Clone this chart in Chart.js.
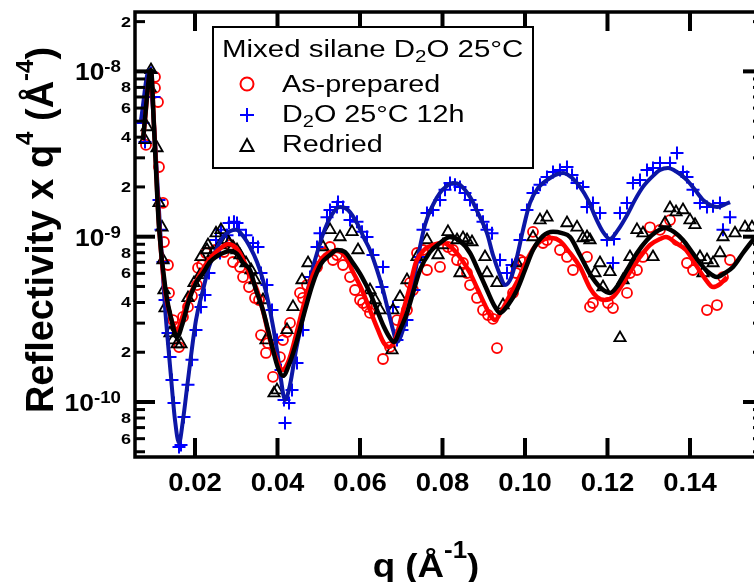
<!DOCTYPE html>
<html>
<head>
<meta charset="utf-8">
<script src="https://cdn.jsdelivr.net/npm/chart.js@4.4.1/dist/chart.umd.min.js"></script>
<style>
  html, body { margin: 0; padding: 0; background: #fff; overflow: hidden; }
  #wrap { width: 790px; height: 582px; }
</style>
</head>
<body>
<div id="wrap"><canvas id="reflChart" width="790" height="582"></canvas></div>
<script>
// q in 1/A, reflectivity * q^4 in A^-4

// As-prepared (red circles)
const asPrepQ = [0.00812,0.0103,0.0103,0.01103,0.01127,0.01224,0.01248,0.01345,0.0137,0.01467,
    0.01539,0.01612,0.01709,0.0183,0.01927,0.02048,0.02073,0.0217,0.02267,0.02485,
    0.02703,0.02848,0.02921,0.03091,0.03164,0.03309,0.03455,0.03552,0.036,0.03721,
    0.0377,0.03891,0.0406,0.04133,0.0423,0.04303,0.04545,0.04618,0.04715,0.04958,
    0.05103,0.05273,0.05345,0.05442,0.05588,0.05758,0.05879,0.06,0.06073,0.0617,
    0.06242,0.06558,0.06727,0.06897,0.07139,0.07212,0.07285,0.07382,0.07527,0.07624,
    0.0794,0.08133,0.08255,0.08352,0.08497,0.08594,0.08667,0.08836,0.08982,0.09103,
    0.09224,0.09321,0.09709,0.09782,0.09879,0.09952,0.10194,0.10436,0.10533,0.10848,
    0.11018,0.11164,0.11503,0.11576,0.11648,0.12012,0.12133,0.12473,0.12545,0.12715,
    0.1286,0.1303,0.13273,0.13515,0.13685,0.13927,0.14073,0.14412,0.14655,0.148,0.1497];
const asPrepR = [3.59e-9,9.25e-9,7.94e-9,6.53e-9,2.64e-9,1.60e-9,9.29e-10,6.74e-10,4.57e-10,3.13e-10,
    2.84e-10,2.15e-10,3.27e-10,3.76e-10,4.38e-10,5.10e-10,6.47e-10,6.74e-10,7.97e-10,8.31e-10,
    8.08e-10,8.91e-10,7.03e-10,6.56e-10,5.70e-10,4.96e-10,4.26e-10,4.14e-10,2.54e-10,1.98e-10,
    2.27e-10,1.42e-10,1.87e-10,2.37e-10,2.65e-10,3.01e-10,4.57e-10,4.26e-10,5.10e-10,6.56e-10,
    7.97e-10,8.66e-10,7.23e-10,7.75e-10,6.74e-10,5.70e-10,4.76e-10,4.14e-10,3.97e-10,3.76e-10,
    3.46e-10,1.82e-10,2.15e-10,3.13e-10,3.60e-10,5.25e-10,4.76e-10,7.97e-10,8.31e-10,6.29e-10,
    6.56e-10,8.66e-10,8.31e-10,7.23e-10,6.93e-10,6.03e-10,5.10e-10,4.26e-10,3.60e-10,3.36e-10,
    3.18e-10,2.12e-10,4.57e-10,6.03e-10,7.23e-10,7.03e-10,1.07e-9,9.16e-10,9.55e-10,8.31e-10,
    7.54e-10,6.29e-10,7.54e-10,3.76e-10,3.97e-10,3.97e-10,3.70e-10,4.57e-10,6.03e-10,6.29e-10,
    7.54e-10,1.14e-9,1.10e-9,1.26e-9,9.55e-10,6.93e-10,6.29e-10,3.60e-10,3.86e-10,5.70e-10,7.23e-10];

// D2O 25C 12h (blue crosses)
const d2oQ = [0.00739,0.00788,0.00933,0.01006,0.01127,0.01176,0.01224,0.01273,0.01345,0.01394,
    0.01442,0.01491,0.01612,0.01661,0.01733,0.0183,0.01927,0.02024,0.02145,0.02242,
    0.02339,0.02509,0.02606,0.0263,0.02776,0.02824,0.02945,0.03018,0.03067,0.03236,
    0.03406,0.03527,0.036,0.03745,0.03867,0.03988,0.04085,0.04158,0.04182,0.04279,
    0.04352,0.04473,0.04618,0.04788,0.04958,0.0503,0.052,0.05273,0.05442,0.05467,
    0.05588,0.05758,0.05927,0.06048,0.0617,0.06315,0.06533,0.06558,0.068,0.06897,
    0.07018,0.07139,0.07309,0.07455,0.07527,0.07624,0.0777,0.0794,0.08061,0.08182,
    0.08303,0.08424,0.08545,0.08667,0.08836,0.08982,0.09079,0.092,0.09394,0.09564,
    0.09685,0.09879,0.10048,0.10194,0.10364,0.10533,0.10679,0.10848,0.11018,0.1114,
    0.11261,0.11406,0.11503,0.11648,0.11818,0.11988,0.12158,0.12133,0.12303,0.12473,
    0.12618,0.12788,0.12958,0.13103,0.13273,0.13515,0.13685,0.1383,0.13927,0.14073,
    0.14242,0.14412,0.14558,0.14727,0.148,0.1497];
const d2oR = [4.87e-9,3.74e-9,9.78e-9,7.00e-9,1.67e-9,1.10e-9,7.03e-10,4.14e-10,2.61e-10,1.87e-10,
    1.36e-10,9.86e-11,5.34e-11,5.49e-11,8.11e-11,1.27e-10,1.80e-10,2.73e-10,3.76e-10,4.44e-10,
    6.03e-10,9.55e-10,7.97e-10,1.10e-9,1.02e-9,1.21e-9,1.23e-9,1.21e-9,1.10e-9,1.02e-9,
    9.16e-10,8.66e-10,6.03e-10,5.10e-10,3.60e-10,2.37e-10,1.56e-10,1.03e-10,7.46e-11,9.86e-11,
    1.18e-10,1.72e-10,2.73e-10,5.70e-10,8.66e-10,1.05e-9,1.31e-9,1.45e-9,1.51e-9,1.62e-9,
    1.51e-9,1.26e-9,1.23e-9,1.07e-9,9.96e-10,7.75e-10,4.96e-10,6.56e-10,3.76e-10,2.37e-10,
    2.73e-10,3.13e-10,4.76e-10,7.54e-10,1.10e-9,1.39e-9,1.45e-9,1.67e-9,1.92e-9,2.11e-9,
    2.06e-9,2.00e-9,1.84e-9,1.67e-9,1.45e-9,1.23e-9,1.10e-9,1.05e-9,7.23e-10,6.03e-10,
    6.74e-10,9.55e-10,1.45e-9,1.84e-9,2.06e-9,2.30e-9,2.46e-9,2.53e-9,2.64e-9,2.36e-9,
    2.11e-9,2.00e-9,1.51e-9,1.60e-9,1.39e-9,9.55e-10,9.69e-10,6.93e-10,1.39e-9,1.60e-9,
    2.11e-9,2.20e-9,2.53e-9,2.60e-9,2.79e-9,2.79e-9,3.21e-9,2.46e-9,2.30e-9,1.92e-9,
    1.60e-9,1.51e-9,1.53e-9,1.60e-9,1.10e-9,1.31e-9];

// Redried (black triangles)
const redriedQ = [0.00788,0.00836,0.00909,0.00933,0.01079,0.01127,0.012,0.01224,0.01248,0.01273,
    0.01394,0.01467,0.01564,0.01661,0.0183,0.01976,0.02121,0.02145,0.02291,0.02315,
    0.02436,0.02509,0.02606,0.0263,0.02776,0.02824,0.02921,0.03018,0.03091,0.03236,
    0.03358,0.03455,0.03648,0.03721,0.03915,0.03988,0.0423,0.04376,0.04594,0.0474,
    0.05103,0.05273,0.05515,0.05806,0.05952,0.06242,0.06364,0.06485,0.06776,0.068,
    0.0697,0.07139,0.07382,0.07624,0.07891,0.08012,0.08133,0.08352,0.08424,0.08497,
    0.08594,0.08715,0.0903,0.09079,0.09321,0.09467,0.09806,0.10194,0.10364,0.10533,
    0.11018,0.11261,0.11406,0.11503,0.11576,0.11697,0.11818,0.11891,0.12061,0.12303,
    0.12376,0.12545,0.12715,0.1286,0.13103,0.13394,0.13515,0.13661,0.1383,0.14,
    0.14121,0.14242,0.14315,0.14412,0.14558,0.14727,0.148,0.15091,0.15333,0.15503];
const redriedR = [3.85e-9,4.61e-9,7.94e-9,1.02e-8,3.44e-9,1.60e-9,1.14e-9,7.23e-10,4.76e-10,3.70e-10,
    2.61e-10,2.37e-10,2.24e-10,2.24e-10,4.26e-10,5.25e-10,5.87e-10,7.54e-10,8.31e-10,8.91e-10,
    7.97e-10,1.05e-9,8.91e-10,1.10e-9,9.55e-10,9.16e-10,8.66e-10,8.31e-10,7.75e-10,6.93e-10,
    6.29e-10,5.47e-10,4.14e-10,2.37e-10,1.13e-10,1.18e-10,2.73e-10,3.76e-10,5.47e-10,6.93e-10,
    8.66e-10,1.10e-9,9.96e-10,1.07e-9,8.31e-10,4.76e-10,4.14e-10,3.60e-10,2.06e-10,3.60e-10,
    4.32e-10,5.47e-10,7.54e-10,9.55e-10,7.75e-10,8.91e-10,1.07e-9,9.55e-10,6.03e-10,9.82e-10,
    9.55e-10,9.29e-10,7.54e-10,6.03e-10,5.25e-10,3.86e-10,6.93e-10,9.96e-10,1.26e-9,1.31e-9,
    1.21e-9,1.14e-9,9.82e-10,9.96e-10,9.55e-10,6.03e-10,6.93e-10,4.96e-10,6.12e-10,2.44e-10,
    5.47e-10,7.54e-10,1.10e-9,1.05e-9,7.54e-10,1.21e-9,1.49e-9,1.41e-9,1.45e-9,1.26e-9,
    1.18e-9,7.54e-10,6.03e-10,7.23e-10,6.93e-10,7.97e-10,9.96e-10,1.05e-9,1.14e-9,1.14e-9];

// model fits
const asPrepFitQ = [0.00739,0.00933,0.01006,0.01127,0.01273,0.01418,0.01564,0.01709,0.01879,0.02073,
    0.02267,0.02461,0.02655,0.028,0.0297,0.03139,0.03333,0.03503,0.03673,0.03818,
    0.03964,0.04109,0.04279,0.04448,0.04667,0.0486,0.05079,0.05273,0.05442,0.05636,
    0.0583,0.06048,0.06242,0.06436,0.06582,0.06703,0.06848,0.07018,0.07188,0.07358,
    0.07552,0.0777,0.08012,0.0823,0.08473,0.08667,0.08861,0.0903,0.09152,0.09273,
    0.09442,0.09636,0.0983,0.10048,0.10267,0.10485,0.10655,0.10848,0.11091,0.11333,
    0.11576,0.11745,0.11939,0.12133,0.12352,0.12545,0.12788,0.1303,0.13273,0.13418,
    0.13661,0.13903,0.14145,0.14388,0.14558,0.14727,0.14897];
const asPrepFitR = [3.85e-9,9.92e-9,4.74e-9,1.18e-9,4.76e-10,3.22e-10,2.73e-10,3.36e-10,4.44e-10,5.63e-10,
    6.84e-10,7.86e-10,8.66e-10,9.03e-10,8.66e-10,7.54e-10,5.87e-10,4.76e-10,3.36e-10,2.37e-10,
    1.85e-10,1.56e-10,1.80e-10,2.54e-10,4.14e-10,5.87e-10,7.43e-10,8.08e-10,8.19e-10,7.64e-10,
    6.12e-10,4.76e-10,3.60e-10,2.73e-10,2.27e-10,2.15e-10,2.37e-10,3.36e-10,4.76e-10,7.03e-10,
    8.31e-10,8.91e-10,9.16e-10,8.54e-10,7.23e-10,6.03e-10,4.76e-10,3.86e-10,3.36e-10,3.13e-10,
    3.60e-10,4.44e-10,5.47e-10,7.23e-10,8.91e-10,9.68e-10,9.82e-10,9.42e-10,7.97e-10,6.56e-10,
    4.89e-10,4.32e-10,4.14e-10,4.32e-10,5.10e-10,6.12e-10,7.54e-10,8.91e-10,9.69e-10,9.96e-10,
    9.16e-10,8.31e-10,6.74e-10,5.47e-10,4.96e-10,5.17e-10,5.70e-10];

const d2oFitQ = [0.00691,0.00885,0.00982,0.01103,0.01248,0.01418,0.01515,0.01612,0.01709,0.0183,
    0.02024,0.02194,0.02339,0.02509,0.02679,0.02848,0.02994,0.03164,0.03333,0.03503,
    0.03648,0.03818,0.03988,0.04085,0.04182,0.04303,0.04448,0.04618,0.04788,0.0503,
    0.05273,0.05515,0.05709,0.05927,0.06097,0.06242,0.06412,0.06558,0.06679,0.068,
    0.06897,0.07042,0.07212,0.07382,0.07576,0.0777,0.07939,0.08109,0.08255,0.08424,
    0.08667,0.08861,0.09079,0.09224,0.09394,0.09515,0.09661,0.09806,0.09952,0.10121,
    0.10315,0.10533,0.10727,0.10921,0.1114,0.11333,0.11527,0.11697,0.11891,0.12061,
    0.12255,0.12473,0.12667,0.1286,0.13079,0.13273,0.13467,0.13685,0.13927,0.14121,
    0.14315,0.14485,0.14655,0.14824,0.1497];
const d2oFitR = [5.08e-9,1.02e-8,5.84e-9,1.84e-9,4.57e-10,1.42e-10,7.78e-11,5.65e-11,7.78e-11,1.36e-10,
    3.13e-10,4.76e-10,6.56e-10,8.31e-10,9.96e-10,1.08e-9,1.10e-9,1.01e-9,8.66e-10,7.03e-10,
    5.47e-10,3.60e-10,2.06e-10,1.36e-10,1.03e-10,1.27e-10,2.06e-10,3.27e-10,5.47e-10,9.16e-10,
    1.30e-9,1.51e-9,1.45e-9,1.21e-9,9.82e-10,8.31e-10,6.29e-10,4.76e-10,3.60e-10,2.73e-10,
    2.31e-10,2.73e-10,4.14e-10,7.03e-10,1.18e-9,1.56e-9,1.84e-9,2.03e-9,2.11e-9,2.06e-9,
    1.74e-9,1.39e-9,1.05e-9,7.75e-10,5.87e-10,5.10e-10,5.63e-10,7.54e-10,1.10e-9,1.60e-9,
    1.97e-9,2.20e-9,2.36e-9,2.43e-9,2.27e-9,2.00e-9,1.67e-9,1.33e-9,1.07e-9,9.69e-10,
    1.10e-9,1.35e-9,1.67e-9,2.00e-9,2.30e-9,2.53e-9,2.60e-9,2.46e-9,2.20e-9,1.92e-9,
    1.67e-9,1.56e-9,1.51e-9,1.56e-9,1.62e-9];

const redriedFitQ = [0.00739,0.00933,0.01006,0.01127,0.01297,0.01442,0.01564,0.01709,0.01855,0.02024,
    0.02194,0.02364,0.02509,0.02679,0.02848,0.03018,0.03164,0.03333,0.03479,0.03648,
    0.0377,0.03891,0.04012,0.04133,0.04303,0.04473,0.04667,0.0486,0.05055,0.05273,
    0.05442,0.05636,0.0583,0.06048,0.06242,0.06412,0.06582,0.06727,0.06824,0.0697,
    0.07139,0.07285,0.07455,0.07697,0.07939,0.08182,0.08424,0.08667,0.08861,0.09079,
    0.09248,0.09394,0.09588,0.09806,0.1,0.10194,0.10436,0.10679,0.10897,0.11091,
    0.11333,0.11576,0.11818,0.12061,0.12255,0.12473,0.12715,0.12958,0.13176,0.13394,
    0.13612,0.1383,0.14048,0.14242,0.14436,0.14655,0.14848,0.15042,0.15285,0.15527,0.15697];
const redriedFitR = [3.85e-9,1.02e-8,4.61e-9,1.145e-9,4.57e-10,3.05e-10,2.47e-10,3.05e-10,4.14e-10,5.25e-10,
    6.03e-10,7.03e-10,7.54e-10,7.97e-10,8.19e-10,7.86e-10,6.93e-10,6.29e-10,4.76e-10,3.60e-10,
    2.73e-10,2.06e-10,1.61e-10,1.44e-10,1.75e-10,2.37e-10,3.60e-10,5.25e-10,6.84e-10,7.75e-10,
    8.31e-10,8.08e-10,6.93e-10,5.70e-10,4.57e-10,3.60e-10,2.84e-10,2.44e-10,2.31e-10,2.73e-10,
    3.46e-10,4.57e-10,6.29e-10,8.08e-10,9.16e-10,9.96e-10,9.42e-10,7.97e-10,6.29e-10,4.76e-10,
    3.86e-10,3.46e-10,3.86e-10,4.76e-10,6.29e-10,8.31e-10,1.01e-9,1.07e-9,1.05e-9,9.96e-10,
    7.75e-10,5.95e-10,4.96e-10,4.57e-10,5.10e-10,6.29e-10,7.97e-10,9.55e-10,1.07e-9,1.13e-9,
    1.07e-9,9.55e-10,8.08e-10,6.93e-10,6.12e-10,5.70e-10,6.03e-10,6.56e-10,7.97e-10,9.55e-10,1.07e-9];

// axes
const qMin = 0.005455, qMax = 0.1577;
const rMin = 4.648e-11, rMax = 2.287e-8;
const xTickValues = [0.02, 0.04, 0.06, 0.08, 0.10, 0.12, 0.14];
const xTickLabels = ['0.02', '0.04', '0.06', '0.08', '0.10', '0.12', '0.14'];
const yDecades = [1e-8, 1e-9, 1e-10];
const yDecadeExp = ['-8', '-9', '-10'];
const yMinorLabelValues = [2e-8, 8e-9, 6e-9, 4e-9, 2e-9, 8e-10, 6e-10, 4e-10, 2e-10, 8e-11, 6e-11];
const yMinorLabels = ['2', '8', '6', '4', '2', '8', '6', '4', '2', '8', '6'];

const FONT = '"Liberation Sans", Arial, Helvetica, sans-serif';
const RED = '#ff0000', BLUE = '#0000ff', NAVY = '#0c16a6', BLACK = '#000000';

function pts(qs, rs) {
    const n = Math.min(qs.length, rs.length);
    const out = [];
    for (let i = 0; i < n; i++) out.push({ x: qs[i], y: rs[i] });
    return out;
}

// draws a row of text runs (for super/subscripts), optionally stretched in x
function drawRuns(ctx, runs, x, y, opts) {
    const sx = opts.sx || 1;
    const weight = opts.bold ? 'bold ' : '';
    let total = 0;
    runs.forEach(r => {
        ctx.font = weight + r.size + 'px ' + FONT;
        r.w = ctx.measureText(r.t).width * sx;
        total += r.w;
    });
    let cx = x;
    if (opts.align === 'center') cx -= total / 2;
    else if (opts.align === 'right') cx -= total;
    runs.forEach(r => {
        ctx.save();
        ctx.font = weight + r.size + 'px ' + FONT;
        ctx.textAlign = 'left';
        ctx.textBaseline = 'alphabetic';
        ctx.translate(cx, y + (r.dy || 0));
        ctx.scale(sx, 1);
        ctx.fillText(r.t, 0, 0);
        ctx.restore();
        cx += r.w;
    });
    return total;
}

function seg(ctx, x1, y1, x2, y2) {
    ctx.beginPath();
    ctx.moveTo(x1, y1);
    ctx.lineTo(x2, y2);
    ctx.stroke();
}

const igorAxes = {
    id: 'igorAxes',
    afterDatasetsDraw(chart) {
        const { ctx, chartArea: a } = chart;
        const xs = chart.scales.x, ys = chart.scales.y;
        ctx.save();
        ctx.strokeStyle = '#000';
        ctx.fillStyle = '#000';
        ctx.lineCap = 'butt';

        // x ticks, bottom and mirrored on top
        ctx.lineWidth = 4;
        xTickValues.forEach(v => {
            const px = xs.getPixelForValue(v);
            seg(ctx, px, a.bottom, px, a.bottom - 19);
            seg(ctx, px, a.top, px, a.top + 19);
        });

        // log ticks on left and right
        for (let e = -11; e <= -8; e++) {
            for (let m = 1; m <= 9; m++) {
                const v = m * Math.pow(10, e);
                if (v < rMin || v > rMax) continue;
                const py = ys.getPixelForValue(v);
                const len = m === 1 ? 20 : 10;
                ctx.lineWidth = m === 1 ? 4 : 3;
                seg(ctx, a.left, py, a.left + len, py);
                seg(ctx, a.right, py, a.right - len, py);
            }
        }

        ctx.lineWidth = 3.5;
        ctx.strokeRect(a.left, a.top, a.right - a.left, a.bottom - a.top);

        // tick labels
        xTickValues.forEach((v, i) => {
            drawRuns(ctx, [{ t: xTickLabels[i], size: 25 }], xs.getPixelForValue(v), 491, { bold: true, align: 'center', sx: 1.1 });
        });
        yMinorLabelValues.forEach((v, i) => {
            drawRuns(ctx, [{ t: yMinorLabels[i], size: 15 }], 131, ys.getPixelForValue(v) + 5, { bold: true, align: 'right', sx: 1.2 });
        });
        yDecades.forEach((v, i) => {
            const py = ys.getPixelForValue(v);
            drawRuns(ctx, [{ t: '10', size: 24 }, { t: yDecadeExp[i], size: 17, dy: -8 }], 121, py + 9, { bold: true, align: 'right', sx: 1.1 });
        });

        // axis titles
        drawRuns(ctx, [{ t: 'q (Å', size: 34 }, { t: '-1', size: 24, dy: -19 }, { t: ')', size: 34 }], 426, 577, { bold: true, align: 'center', sx: 1.08 });
        ctx.save();
        ctx.translate(53, 230);
        ctx.rotate(-Math.PI / 2);
        drawRuns(ctx, [
            { t: 'Reflectivity x q', size: 38 }, { t: '4', size: 24, dy: -20 },
            { t: ' (Å', size: 38 }, { t: '-4', size: 24, dy: -20 }, { t: ')', size: 38 }
        ], 0, 0, { bold: true, align: 'center' });
        ctx.restore();

        // legend box
        ctx.fillStyle = '#fff';
        ctx.fillRect(213, 27, 320, 141);
        ctx.lineWidth = 2;
        ctx.strokeRect(213, 27, 320, 141);
        ctx.fillStyle = '#000';
        const sx = 1.25;
        drawRuns(ctx, [{ t: 'Mixed silane D', size: 23 }, { t: '2', size: 16, dy: 5 }, { t: 'O 25°C', size: 23 }], 222, 57, { sx: 1.28 });
        drawRuns(ctx, [{ t: 'As-prepared', size: 23 }], 282, 92, { sx });
        drawRuns(ctx, [{ t: 'D', size: 23 }, { t: '2', size: 16, dy: 5 }, { t: 'O 25°C 12h', size: 23 }], 282, 122, { sx });
        drawRuns(ctx, [{ t: 'Redried', size: 23 }], 282, 152, { sx });

        const mx = 247;
        ctx.lineWidth = 2;
        ctx.strokeStyle = RED;
        ctx.beginPath();
        ctx.arc(mx, 84, 6.5, 0, Math.PI * 2);
        ctx.stroke();
        ctx.strokeStyle = BLUE;
        seg(ctx, mx - 7, 115, mx + 7, 115);
        seg(ctx, mx, 108, mx, 122);
        ctx.strokeStyle = BLACK;
        ctx.beginPath();
        ctx.moveTo(mx, 139);
        ctx.lineTo(mx + 6.5, 151);
        ctx.lineTo(mx - 6.5, 151);
        ctx.closePath();
        ctx.stroke();

        ctx.restore();
    }
};

const markerBase = { showLine: false, backgroundColor: 'rgba(0,0,0,0)' };
const fitBase = { showLine: true, pointRadius: 0, borderWidth: 4.5, cubicInterpolationMode: 'monotone', fill: false };

new Chart(document.getElementById('reflChart'), {
    type: 'scatter',
    data: {
        datasets: [
            { ...fitBase, label: 'Redried fit', data: pts(redriedFitQ, redriedFitR), borderColor: BLACK, order: 1 },
            { ...fitBase, label: 'As-prepared fit', data: pts(asPrepFitQ, asPrepFitR), borderColor: RED, order: 2 },
            { ...fitBase, label: 'D2O fit', data: pts(d2oFitQ, d2oFitR), borderColor: NAVY, borderWidth: 4, order: 3 },
            { ...markerBase, label: 'Redried', data: pts(redriedQ, redriedR), pointStyle: 'triangle', pointRadius: 6.5, borderWidth: 1.8, borderColor: BLACK, order: 4 },
            { ...markerBase, label: 'D2O 25°C 12h', data: pts(d2oQ, d2oR), pointStyle: 'cross', pointRadius: 6.5, borderWidth: 2, borderColor: BLUE, order: 5 },
            { ...markerBase, label: 'As-prepared', data: pts(asPrepQ, asPrepR), pointStyle: 'circle', pointRadius: 5, borderWidth: 1.8, borderColor: RED, order: 6 }
        ]
    },
    options: {
        responsive: false,
        animation: false,
        devicePixelRatio: 1,
        layout: { padding: { left: 135, right: 27, top: 12, bottom: 125 } },
        plugins: { legend: { display: false }, tooltip: { enabled: false } },
        scales: {
            x: { type: 'linear', min: qMin, max: qMax, display: false },
            y: { type: 'logarithmic', min: rMin, max: rMax, display: false }
        }
    },
    plugins: [igorAxes]
});
</script>
</body>
</html>
